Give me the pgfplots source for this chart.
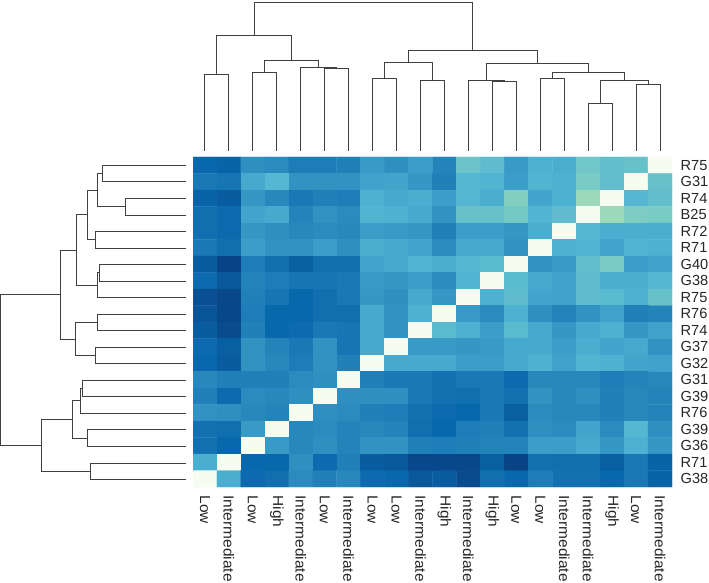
\documentclass[border=0pt]{standalone}
\usepackage{pgfplots}
\pgfplotsset{compat=1.18}
\usepackage{fontspec}
\setmainfont{Liberation Sans}
\pgfplotsset{colormap={gnbu}{rgb255=(247,252,240) rgb255=(224,243,219) rgb255=(204,235,197) rgb255=(168,221,181) rgb255=(123,204,196) rgb255=(78,179,211) rgb255=(43,140,190) rgb255=(8,104,172) rgb255=(8,64,129)}}
\begin{document}
\begin{tikzpicture}[x=1pt,y=1pt]
\path[use as bounding box] (0,0) rectangle (709,583);
\begin{axis}[
  at={(193pt,96pt)},anchor=south west,
  scale only axis,width=479pt,height=330pt,
  xmin=-0.5,xmax=19.5,ymin=-0.5,ymax=19.5,y dir=reverse,
  axis line style={draw=none},major tick length=0pt,
  colormap name=gnbu,point meta min=0,point meta max=8.1,
  xtick={0,...,19},ytick={0,...,19},
  xticklabels={Low,Intermediate,Low,High,Intermediate,Low,Intermediate,Low,Low,Intermediate,High,Intermediate,High,Low,Low,Intermediate,Intermediate,High,Low,Intermediate},
  yticklabels={R75,G31,R74,B25,R72,R71,G40,G38,R75,R76,R74,G37,G32,G31,G39,R76,G39,G36,R71,G38},
  ytick pos=right,yticklabel pos=right,xtick pos=bottom,
  tick label style={font=\fontsize{14.6}{14.6}\selectfont,text=black!85},
  xticklabel style={rotate=-90,anchor=west,inner sep=0pt,xscale=1.06,xshift=8pt},
  yticklabel style={anchor=west,inner sep=0pt,xshift=8.5pt},
]
\addplot[matrix plot*,mesh/cols=20,point meta=explicit] coordinates {
(0,0)[7.1] (1,0)[7.2] (2,0)[6.0] (3,0)[6.1] (4,0)[6.5] (5,0)[6.5] (6,0)[6.4] (7,0)[5.7] (8,0)[6.0] (9,0)[5.6] (10,0)[6.3] (11,0)[4.4] (12,0)[4.7] (13,0)[5.7] (14,0)[5.1] (15,0)[5.2] (16,0)[4.3] (17,0)[4.6] (18,0)[4.5] (19,0)[0]
(0,1)[6.6] (1,1)[6.7] (2,1)[5.3] (3,1)[4.9] (4,1)[5.9] (5,1)[5.9] (6,1)[5.9] (7,1)[5.5] (8,1)[5.4] (9,1)[5.8] (10,1)[6.4] (11,1)[4.9] (12,1)[5.0] (13,1)[5.6] (14,1)[5.0] (15,1)[5.1] (16,1)[4.1] (17,1)[4.6] (18,1)[0] (19,1)[4.5]
(0,2)[7.2] (1,2)[7.4] (2,2)[5.8] (3,2)[6.2] (4,2)[6.6] (5,2)[6.4] (6,2)[6.5] (7,2)[5.1] (8,2)[5.3] (9,2)[5.2] (10,2)[5.6] (11,2)[4.9] (12,2)[5.2] (13,2)[3.9] (14,2)[5.4] (15,2)[5.1] (16,2)[3.3] (17,2)[0] (18,2)[4.9] (19,2)[4.6]
(0,3)[6.9] (1,3)[7.0] (2,3)[5.4] (3,3)[5.3] (4,3)[6.3] (5,3)[5.9] (6,3)[6.1] (7,3)[5.0] (8,3)[5.1] (9,3)[5.3] (10,3)[5.9] (11,3)[4.5] (12,3)[4.5] (13,3)[4.2] (14,3)[5.0] (15,3)[4.7] (16,3)[0] (17,3)[3.3] (18,3)[4.0] (19,3)[4.1]
(0,4)[6.9] (1,4)[7.0] (2,4)[5.8] (3,4)[6.0] (4,4)[6.2] (5,4)[6.1] (6,4)[6.2] (7,4)[5.6] (8,4)[5.7] (9,4)[5.8] (10,4)[6.4] (11,4)[5.6] (12,4)[5.6] (13,4)[5.8] (14,4)[5.2] (15,4)[0] (16,4)[4.9] (17,4)[5.2] (18,4)[5.2] (19,4)[5.2]
(0,5)[6.6] (1,5)[6.9] (2,5)[5.6] (3,5)[5.9] (4,5)[5.9] (5,5)[5.6] (6,5)[6.0] (7,5)[5.2] (8,5)[5.3] (9,5)[5.4] (10,5)[6.1] (11,5)[5.3] (12,5)[5.3] (13,5)[5.9] (14,5)[0] (15,5)[5.1] (16,5)[5.0] (17,5)[5.4] (18,5)[5.0] (19,5)[5.1]
(0,6)[7.4] (1,6)[8.0] (2,6)[6.5] (3,6)[6.9] (4,6)[7.3] (5,6)[6.9] (6,6)[6.9] (7,6)[5.4] (8,6)[5.3] (9,6)[5.0] (10,6)[5.2] (11,6)[4.9] (12,6)[4.8] (13,6)[0] (14,6)[5.9] (15,6)[5.7] (16,6)[4.6] (17,6)[4.1] (18,6)[5.6] (19,6)[5.5]
(0,7)[7.0] (1,7)[7.5] (2,7)[6.3] (3,7)[6.5] (4,7)[6.7] (5,7)[6.7] (6,7)[6.6] (7,7)[5.7] (8,7)[5.8] (9,7)[5.6] (10,7)[6.1] (11,7)[5.0] (12,7)[0] (13,7)[4.8] (14,7)[5.3] (15,7)[5.5] (16,7)[4.7] (17,7)[5.2] (18,7)[5.2] (19,7)[4.9]
(0,8)[7.7] (1,8)[7.9] (2,8)[6.4] (3,8)[6.7] (4,8)[7.1] (5,8)[6.9] (6,8)[6.6] (7,8)[5.8] (8,8)[6.0] (9,8)[5.3] (10,8)[5.8] (11,8)[0] (12,8)[5.1] (13,8)[4.7] (14,8)[5.4] (15,8)[5.5] (16,8)[4.7] (17,8)[4.8] (18,8)[5.1] (19,8)[4.5]
(0,9)[7.6] (1,9)[7.9] (2,9)[6.5] (3,9)[7.1] (4,9)[7.1] (5,9)[6.9] (6,9)[6.9] (7,9)[5.3] (8,9)[5.9] (9,9)[5.1] (10,9)[0] (11,9)[5.7] (12,9)[6.1] (13,9)[5.1] (14,9)[6.0] (15,9)[6.3] (16,9)[5.9] (17,9)[5.5] (18,9)[6.4] (19,9)[6.3]
(0,10)[7.4] (1,10)[7.8] (2,10)[6.4] (3,10)[7.1] (4,10)[7.0] (5,10)[6.6] (6,10)[6.7] (7,10)[5.3] (8,10)[5.9] (9,10)[0] (10,10)[4.8] (11,10)[5.1] (12,10)[5.6] (13,10)[4.8] (14,10)[5.3] (15,10)[5.8] (16,10)[5.3] (17,10)[5.1] (18,10)[5.8] (19,10)[5.5]
(0,11)[7.0] (1,11)[7.3] (2,11)[5.9] (3,11)[6.3] (4,11)[6.6] (5,11)[5.9] (6,11)[6.7] (7,11)[5.3] (8,11)[0] (9,11)[5.7] (10,11)[5.7] (11,11)[5.8] (12,11)[5.7] (13,11)[5.3] (14,11)[5.3] (15,11)[5.6] (16,11)[5.2] (17,11)[5.4] (18,11)[5.3] (19,11)[5.9]
(0,12)[7.1] (1,12)[7.4] (2,12)[5.9] (3,12)[6.2] (4,12)[6.5] (5,12)[5.9] (6,12)[6.4] (7,12)[0] (8,12)[5.3] (9,12)[5.3] (10,12)[5.3] (11,12)[5.6] (12,12)[5.6] (13,12)[5.3] (14,12)[5.1] (15,12)[5.5] (16,12)[5.0] (17,12)[5.1] (18,12)[5.4] (19,12)[5.5]
(0,13)[6.2] (1,13)[6.4] (2,13)[6.4] (3,13)[6.4] (4,13)[6.1] (5,13)[6.0] (6,13)[0] (7,13)[6.4] (8,13)[6.6] (9,13)[6.6] (10,13)[6.8] (11,13)[6.6] (12,13)[6.6] (13,13)[7.0] (14,13)[6.2] (15,13)[6.2] (16,13)[6.2] (17,13)[6.5] (18,13)[6.3] (19,13)[6.2]
(0,14)[6.4] (1,14)[7.0] (2,14)[6.1] (3,14)[6.2] (4,14)[6.0] (5,14)[0] (6,14)[6.0] (7,14)[6.0] (8,14)[6.0] (9,14)[6.6] (10,14)[6.8] (11,14)[6.9] (12,14)[6.6] (13,14)[6.8] (14,14)[5.9] (15,14)[6.2] (16,14)[6.0] (17,14)[6.4] (18,14)[6.2] (19,14)[6.3]
(0,15)[5.9] (1,15)[6.0] (2,15)[6.2] (3,15)[6.3] (4,15)[0] (5,15)[6.0] (6,15)[6.1] (7,15)[6.4] (8,15)[6.5] (9,15)[6.8] (10,15)[7.0] (11,15)[7.1] (12,15)[6.6] (13,15)[7.3] (14,15)[6.1] (15,15)[6.2] (16,15)[6.2] (17,15)[6.4] (18,15)[6.2] (19,15)[6.3]
(0,16)[6.8] (1,16)[6.9] (2,16)[5.7] (3,16)[0] (4,16)[6.2] (5,16)[6.1] (6,16)[6.3] (7,16)[6.2] (8,16)[6.3] (9,16)[6.9] (10,16)[7.1] (11,16)[6.5] (12,16)[6.4] (13,16)[6.8] (14,16)[6.0] (15,16)[6.1] (16,16)[5.4] (17,16)[6.1] (18,16)[4.9] (19,16)[6.0]
(0,17)[6.8] (1,17)[7.1] (2,17)[0] (3,17)[5.7] (4,17)[6.2] (5,17)[6.0] (6,17)[6.3] (7,17)[5.9] (8,17)[5.9] (9,17)[6.4] (10,17)[6.5] (11,17)[6.4] (12,17)[6.3] (13,17)[6.3] (14,17)[5.6] (15,17)[5.6] (16,17)[5.3] (17,17)[5.8] (18,17)[5.1] (19,17)[5.8]
(0,18)[5.2] (1,18)[0] (2,18)[7.1] (3,18)[7.1] (4,18)[6.0] (5,18)[7.0] (6,18)[6.4] (7,18)[7.4] (8,18)[7.5] (9,18)[7.9] (10,18)[7.9] (11,18)[7.9] (12,18)[7.3] (13,18)[8.0] (14,18)[6.8] (15,18)[6.9] (16,18)[6.9] (17,18)[7.3] (18,18)[6.6] (19,18)[7.2]
(0,19)[0] (1,19)[5.2] (2,19)[7.0] (3,19)[6.9] (4,19)[6.1] (5,19)[6.4] (6,19)[6.2] (7,19)[7.0] (8,19)[7.1] (9,19)[7.5] (10,19)[7.4] (11,19)[7.8] (12,19)[6.9] (13,19)[7.1] (14,19)[6.5] (15,19)[6.8] (16,19)[6.8] (17,19)[7.1] (18,19)[6.6] (19,19)[7.2]
};
\end{axis}
\begin{axis}[
  at={(0pt,0pt)},anchor=south west,
  scale only axis,width=709pt,height=583pt,
  xmin=0,xmax=709,ymin=0,ymax=583,y dir=reverse,
  hide axis,clip=false,unbounded coords=jump,
]
% column dendrogram
\addplot[black!75,line width=0.9pt,mark=none] coordinates {
(204.7,151)(204.7,74.7)(228.7,74.7)(228.7,151)(nan,nan)
(252.7,151)(252.7,72.3)(276.7,72.3)(276.7,151)(nan,nan)
(324.7,151)(324.7,68)(348.7,68)(348.7,151)(nan,nan)
(300.7,151)(300.7,67)(336.7,67)(336.7,68)(nan,nan)
(264.7,72.3)(264.7,60.7)(318.7,60.7)(318.7,67)(nan,nan)
(216.7,74.7)(216.7,35.3)(291.7,35.3)(291.7,60.7)(nan,nan)
(372.3,151)(372.3,78.7)(396.3,78.7)(396.3,151)(nan,nan)
(420.3,151)(420.3,80.3)(444.3,80.3)(444.3,151)(nan,nan)
(384.3,78.7)(384.3,62.7)(432.3,62.7)(432.3,80.3)(nan,nan)
(492.3,151)(492.3,81.3)(516.3,81.3)(516.3,151)(nan,nan)
(468.3,151)(468.3,80.3)(504.3,80.3)(504.3,81.3)(nan,nan)
(540,151)(540,78.7)(564,78.7)(564,151)(nan,nan)
(588,151)(588,103)(612,103)(612,151)(nan,nan)
(636,151)(636,84.3)(660,84.3)(660,151)(nan,nan)
(600,103)(600,80.3)(648,80.3)(648,84.3)(nan,nan)
(552,78.7)(552,72.3)(624,72.3)(624,80.3)(nan,nan)
(486.3,80.3)(486.3,63.3)(588,63.3)(588,72.3)(nan,nan)
(408.3,62.7)(408.3,50.7)(537.2,50.7)(537.2,63.3)(nan,nan)
(254.2,35.3)(254.2,2.3)(472.7,2.3)(472.7,50.7)
};
% row dendrogram
\addplot[black!75,line width=0.9pt,mark=none] coordinates {
(185.7,165)(102.3,165)(102.3,181.7)(185.7,181.7)(nan,nan)
(185.7,198.3)(125.7,198.3)(125.7,215)(185.7,215)(nan,nan)
(102.3,173.3)(97.3,173.3)(97.3,206.7)(125.7,206.7)(nan,nan)
(185.7,231.3)(95.3,231.3)(95.3,248)(185.7,248)(nan,nan)
(97.3,190)(87.3,190)(87.3,239.7)(95.3,239.7)(nan,nan)
(185.7,264.7)(99,264.7)(99,281)(185.7,281)(nan,nan)
(99,272.8)(97.7,272.8)(97.7,297.7)(185.7,297.7)(nan,nan)
(87.3,214.8)(76.3,214.8)(76.3,285.3)(97.7,285.3)(nan,nan)
(185.7,314)(97.3,314)(97.3,330.7)(185.7,330.7)(nan,nan)
(185.7,347.3)(95,347.3)(95,363.7)(185.7,363.7)(nan,nan)
(97.3,322.3)(75.7,322.3)(75.7,355.5)(95,355.5)(nan,nan)
(76.3,250)(60.3,250)(60.3,339)(75.7,339)(nan,nan)
(185.7,380)(82,380)(82,396.7)(185.7,396.7)(nan,nan)
(82,388.3)(80.7,388.3)(80.7,413.3)(185.7,413.3)(nan,nan)
(185.7,429.7)(87.3,429.7)(87.3,446.3)(185.7,446.3)(nan,nan)
(80.7,400.8)(72.7,400.8)(72.7,438)(87.3,438)(nan,nan)
(185.7,463)(90.3,463)(90.3,479.7)(185.7,479.7)(nan,nan)
(72.7,419.4)(41.7,419.4)(41.7,471.3)(90.3,471.3)(nan,nan)
(60.3,294.5)(0.7,294.5)(0.7,445.4)(41.7,445.4)
};
\end{axis}
\end{tikzpicture}
\end{document}
